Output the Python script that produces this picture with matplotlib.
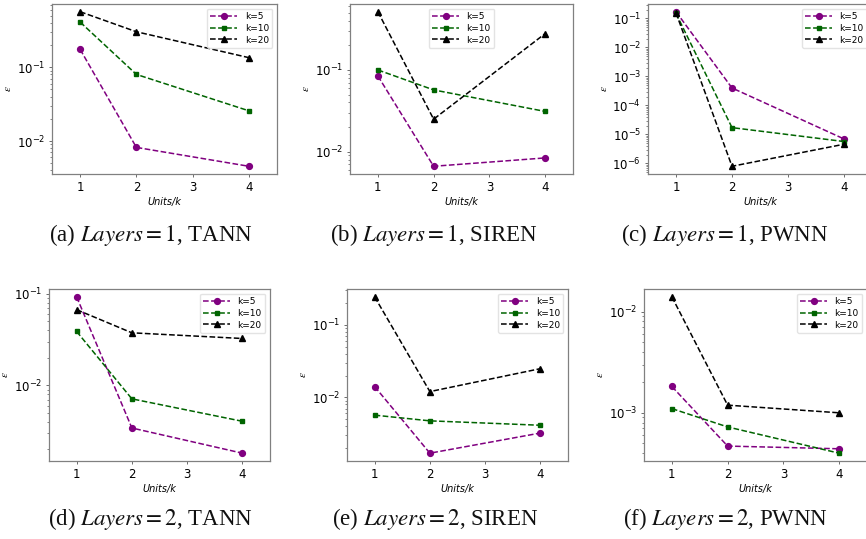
import numpy as np
import matplotlib
matplotlib.use("Agg")
import matplotlib.pyplot as plt

units = [1, 2, 4]
ticks = [1, 2, 3, 4]

# error per width multiplier, one list per k
tann_1 = {"k=5": [0.175, 0.0082, 0.00455], "k=10": [0.41, 0.080, 0.0257], "k=20": [0.566, 0.303, 0.135]}
siren_1 = {"k=5": [0.0845, 0.00664, 0.0084], "k=10": [0.100, 0.057, 0.0311], "k=20": [0.515, 0.0250, 0.278]}
pwnn_1 = {"k=5": [0.17, 4.0e-4, 7.0e-6], "k=10": [0.148, 1.72e-5, 5.7e-6], "k=20": [0.155, 8.0e-7, 4.6e-6]}
tann_2 = {"k=5": [0.093, 0.00343, 0.00182], "k=10": [0.0389, 0.00714, 0.00406], "k=20": [0.0673, 0.0376, 0.0326]}
siren_2 = {"k=5": [0.0141, 0.00169, 0.00321], "k=10": [0.00567, 0.00473, 0.00411], "k=20": [0.245, 0.0120, 0.0249]}
pwnn_2 = {"k=5": [0.00182, 4.69e-4, 4.41e-4], "k=10": [0.0011, 7.25e-4, 3.99e-4], "k=20": [0.0140, 0.00119, 0.0010]}

captions = [r"(a) $\mathit{Layers}=1$, TANN", r"(b) $\mathit{Layers}=1$, SIREN", r"(c) $\mathit{Layers}=1$, PWNN",
            r"(d) $\mathit{Layers}=2$, TANN", r"(e) $\mathit{Layers}=2$, SIREN", r"(f) $\mathit{Layers}=2$, PWNN"]
panels = [tann_1, siren_1, pwnn_1, tann_2, siren_2, pwnn_2]
legend_loc = ["upper right", "upper center", "upper right", "upper right", "upper right", "upper right"]

styles = {"k=5": dict(color="purple", marker="o", markersize=4.2),
          "k=10": dict(color="darkgreen", marker="s", markersize=3.2),
          "k=20": dict(color="black", marker="^", markersize=4.4)}

W, H = 866, 539
# axes boxes in pixels: left, right, top, bottom
boxes = [(52, 277, 4, 174), (350, 573, 4, 174), (648, 872, 4, 174),
         (49, 270, 289, 461), (347, 568, 289, 461), (644, 867, 289, 461)]
cap_pos = [(151, 235), (434, 235), (725, 235), (150, 519), (435, 519), (725, 519)]

plt.rcParams["mathtext.fontset"] = "stix"
fig = plt.figure(figsize=(W / 100, H / 100), dpi=100)

for i, data in enumerate(panels):
    l, r, t, b = boxes[i]
    ax = fig.add_axes([l / W, 1 - b / H, (r - l) / W, (b - t) / H])
    for name, vals in data.items():
        ax.plot(units, vals, linestyle="--", linewidth=1.1, label=name, **styles[name])
    ax.set_yscale("log")
    ax.set_xlim(0.5, 4.5)
    ax.set_xticks(ticks)
    ax.tick_params(labelsize=8.5, length=2.5, width=0.6, color="#555555", pad=2.5)
    ax.tick_params(which="minor", length=1.5, width=0.5, color="#555555")
    for s in ax.spines.values():
        s.set_color("#808080")
        s.set_linewidth(0.9)
    ax.set_xlabel("Units/k", fontsize=7, style="italic", labelpad=2)
    ax.set_ylabel(r"$\epsilon$", fontsize=8)
    ax.yaxis.set_label_coords(-0.175, 0.5)
    ax.legend(loc=legend_loc[i], fontsize=6.5, handlelength=3.0, labelspacing=0.3,
              borderpad=0.4, framealpha=0.8, edgecolor="#dddddd")
    cx, cy = cap_pos[i]
    fig.text(cx / W, 1 - cy / H, captions[i], ha="center", va="center",
             fontsize=16.5, family="Liberation Serif", color="#111111")

fig.savefig("out.png", dpi=100)
